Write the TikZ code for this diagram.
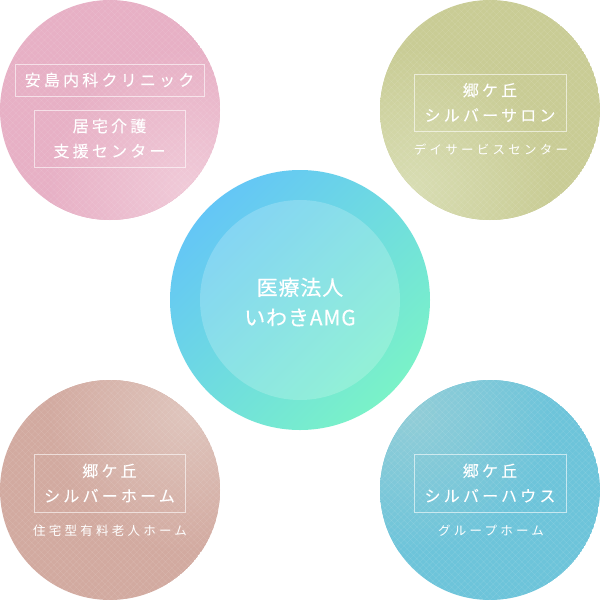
\documentclass[tikz,border=0pt]{standalone}
\usepackage{fontspec}
\newfontfamily\jpfont{Noto Sans CJK JP}[LetterSpace=20,FakeBold=0.6]
\newfontfamily\jpsub{Noto Sans CJK JP}[LetterSpace=26]
\newfontfamily\jpmain{Noto Sans CJK JP}[LetterSpace=4,FakeBold=0.3]
\usetikzlibrary{patterns.meta}
\definecolor{pinkA}{HTML}{E7B0C5}
\definecolor{pinkB}{HTML}{F0CAD8}
\definecolor{oliveA}{HTML}{C9CC95}
\definecolor{oliveB}{HTML}{D8DDB3}
\definecolor{roseA}{HTML}{D2AAA0}
\definecolor{roseB}{HTML}{DFC5BD}
\definecolor{skyA}{HTML}{6DC4DA}
\definecolor{skyB}{HTML}{92CDD7}
\definecolor{cenA}{HTML}{64C6F6}
\definecolor{cenB}{HTML}{7AF2C8}
\tikzset{
  x=1pt, y=-1pt,
  texture/.style={pattern={Lines[angle=45,distance=4.5pt,line width=0.5pt]},pattern color=white,opacity=0.10},
  texture2/.style={pattern={Lines[angle=-45,distance=4.5pt,line width=0.5pt]},pattern color=white,opacity=0.10},
  frame/.style={draw=white,draw opacity=0.6,line width=0.8pt,text=white,align=center,inner sep=0pt},
  title/.style={font=\jpfont\fontsize{16}{25}\selectfont},
  sub/.style={text=white,font=\jpsub\fontsize{12.5}{15}\selectfont,inner sep=0pt},
  maintext/.style={text=white,align=center,font=\jpmain\fontsize{21}{30}\selectfont,inner sep=0pt}
}
\begin{document}
\begin{tikzpicture}
\useasboundingbox (0,0) rectangle (600,600);
\fill[white] (0,0) rectangle (600,600);
% four circles, each with a soft glow on the side facing the centre
\foreach \cx/\cy/\gx/\gy/\ca/\cb in {110/110/188/188/pinkA/pinkB, 490/110/412/188/oliveA/oliveB, 110/490/188/412/roseA/roseB, 490/490/412/412/skyA/skyB}{
  \begin{scope}
    \clip (\cx,\cy) circle[radius=110];
    \fill[\ca] (\cx,\cy) circle[radius=110];
    \shade[inner color=\cb,outer color=\ca] (\gx,\gy) circle[radius=140];
    \fill[texture] (\cx,\cy) circle[radius=110];
    \fill[texture2] (\cx,\cy) circle[radius=110];
  \end{scope}
}
% centre
\shade[top color=cenA,bottom color=cenB,shading angle=45] (300,300) circle[radius=130];
\fill[white,opacity=0.2] (300,300) circle[radius=100];
\node[maintext] (amg) at (300,302) {医療法人\\いわきAMG};
% top-left
\node[frame,title,minimum width=189pt,minimum height=32pt] (ajima) at (109.5,80) {安島内科クリニック};
\node[frame,title,minimum width=151pt,minimum height=57pt] (kyotaku) at (109.5,138.5) {居宅介護\\支援センター};
% top-right
\node[frame,title,minimum width=152pt,minimum height=57pt] (salon) at (490,102.5) {郷ケ丘\\シルバーサロン};
\node[sub] (day) at (491,150) {デイサービスセンター};
% bottom-left
\node[frame,title,minimum width=151pt,minimum height=58pt] (home) at (109.5,483) {郷ケ丘\\シルバーホーム};
\node[sub] (yuryo) at (110,531) {住宅型有料老人ホーム};
% bottom-right
\node[frame,title,minimum width=152pt,minimum height=58pt] (house) at (490,483) {郷ケ丘\\シルバーハウス};
\node[sub] (group) at (491,531) {グループホーム};
\end{tikzpicture}
\end{document}
